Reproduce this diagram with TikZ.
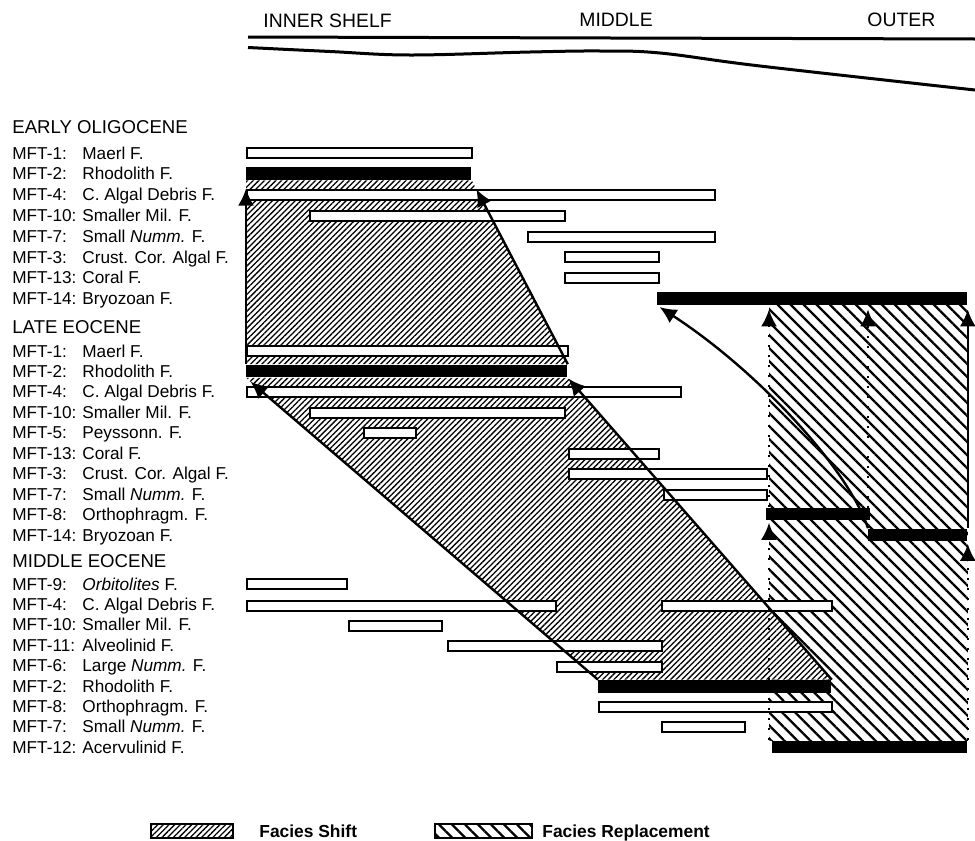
\documentclass[tikz,border=0pt]{standalone}
\usepackage{fontspec}
\setmainfont{Liberation Sans}
\usetikzlibrary{arrows.meta,patterns.meta,backgrounds}

% one facies bar: style, name, x from, x to, y centre
\newcommand{\mftbar}[5]{\node[#1, minimum width={(#4-#3)*0.5pt}] (#2) at (#3,#5) {};}

\begin{document}
\begin{tikzpicture}[
    x=0.5pt, y=-0.5pt,
    openbar/.style={draw, line width=1pt, fill=white, anchor=west, inner sep=0pt, minimum height=5pt},
    solidbar/.style={fill=black, anchor=west, inner sep=0pt, minimum height=6.4pt},
    arr/.style={-{Latex[length=8.5pt,width=8pt]}, line width=1.2pt},
    dotarr/.style={arr, line width=1.1pt, dash pattern=on 1.1pt off 3.9pt},
    shifthatch/.style={preaction={fill=white}, pattern={Lines[angle=45,distance=2pt,line width=0.65pt]}},
    replhatch/.style={preaction={fill=white}, pattern={Lines[angle=-45,distance=4.6pt,line width=1.15pt]}},
    code/.style={anchor=base west, inner sep=0pt, font=\fontsize{8.6}{10}\selectfont},
    period/.style={anchor=west, inner sep=0pt, font=\fontsize{9.3}{11}\selectfont},
    zone/.style={anchor=west, inner sep=0pt, font=\fontsize{9.7}{11}\selectfont},
    legbox/.style={draw, line width=0.9pt, anchor=west, inner sep=0pt, minimum height=7pt},
    legtext/.style={anchor=base west, inner sep=0pt, font=\bfseries\fontsize{8.7}{10}\selectfont},
    shelf/.style={line width=1.5pt}
  ]
  \useasboundingbox (0,0) rectangle (975,841);

  % --- Shelf profile (top) ---
  \node[zone] (inner) at (263,21) {INNER SHELF};
  \node[zone] (middle) at (579,20) {MIDDLE};
  \node[zone] (outer) at (867,20) {OUTER};
  \draw[shelf] (248,37) -- (975,39);
  \draw[shelf] plot[smooth, tension=0.6] coordinates {(248,47.5) (330,51.5) (410,55) (530,52) (600,51) (660,53) (760,66) (975,90)};

  % --- Early Oligocene ---
  \node[period] (eoHead) at (12,127) {EARLY OLIGOCENE};
  \foreach \i/\c/\n in {0/1/Maerl F., 1/2/Rhodolith F., 2/4/C. Algal Debris F., 3/10/Smaller Mil. F.,
      4/7/Small \textit{Numm.} F., 5/3/Crust. Cor. Algal F., 6/13/Coral F., 7/14/Bryozoan F.}
    {\node[code] (eoCode\i) at (12,{159+20.8*\i}) {MFT-\c:};
     \node[code] (eoName\i) at (82,{159+20.8*\i}) {\n};}
  \mftbar{openbar}{eo0}{246}{471}{153}
  \mftbar{solidbar}{eo1}{246}{471}{173.6}
  \mftbar{openbar}{eo2}{246}{714}{194.5}
  \mftbar{openbar}{eo3}{309}{564}{215.5}
  \mftbar{openbar}{eo4}{527}{714}{236.5}
  \mftbar{openbar}{eo5}{564}{658}{257}
  \mftbar{openbar}{eo6}{564}{658}{277.5}
  \mftbar{solidbar}{eo7}{657}{967}{298.6}

  % --- Late Eocene ---
  \node[period] (leHead) at (12,327) {LATE EOCENE};
  \foreach \i/\c/\n in {0/1/Maerl F., 1/2/Rhodolith F., 2/4/C. Algal Debris F., 3/10/Smaller Mil. F.,
      4/5/Peyssonn. F., 5/13/Coral F., 6/3/Crust. Cor. Algal F., 7/7/Small \textit{Numm.} F.,
      8/8/Orthophragm. F., 9/14/Bryozoan F.}
    {\node[code] (leCode\i) at (12,{357+20.45*\i}) {MFT-\c:};
     \node[code] (leName\i) at (82,{357+20.45*\i}) {\n};}
  \mftbar{openbar}{le0}{246}{567}{351}
  \mftbar{solidbar}{le1}{246}{567}{371}
  \mftbar{openbar}{le2}{246}{680}{392}
  \mftbar{openbar}{le3}{309}{564}{412.5}
  \mftbar{openbar}{le4}{363}{415}{433}
  \mftbar{openbar}{le5}{568}{658}{453.5}
  \mftbar{openbar}{le6}{568}{766}{474}
  \mftbar{openbar}{le7}{663}{766}{494.5}
  \mftbar{solidbar}{le8}{766}{870}{514}
  \mftbar{solidbar}{le9}{868}{967}{535}

  % --- Middle Eocene ---
  \node[period] (meHead) at (12,561) {MIDDLE EOCENE};
  \foreach \i/\c/\n in {0/9/\textit{Orbitolites} F., 1/4/C. Algal Debris F., 2/10/Smaller Mil. F.,
      3/11/Alveolinid F., 4/6/Large \textit{Numm.} F., 5/2/Rhodolith F., 6/8/Orthophragm. F.,
      7/7/Small \textit{Numm.} F., 8/12/Acervulinid F.}
    {\node[code] (meCode\i) at (12,{590+20.4*\i}) {MFT-\c:};
     \node[code] (meName\i) at (82,{590+20.4*\i}) {\n};}
  \mftbar{openbar}{me0}{246}{346}{584}
  \mftbar{openbar}{me1}{246}{555}{605.5}
  \mftbar{openbar}{me1b}{661}{831}{605.5}
  \mftbar{openbar}{me2}{348}{441}{625.5}
  \mftbar{openbar}{me3}{447}{661}{646}
  \mftbar{openbar}{me4}{556}{661}{666.5}
  \mftbar{solidbar}{me5}{598}{831}{686.5}
  \mftbar{openbar}{me6}{598}{831}{706.5}
  \mftbar{openbar}{me7}{661}{744}{727}
  \mftbar{solidbar}{me8}{772}{967}{747}

  % --- Facies replacement / shift areas (behind the bars) ---
  \coordinate (dotA) at (769,0);
  \begin{pgfonlayer}{background}
    \path[replhatch] (eo7.south west -| dotA) rectangle (me8.north east);
    \path[shifthatch] (eo1.south west) -- (eo1.south east) -- (le1.north east) -- (le1.north west) -- cycle;
    \path[shifthatch] (le1.south west) -- (le1.south east) -- (me5.north east) -- (me5.north west) -- cycle;
  \end{pgfonlayer}

  % --- Shift arrows ---
  \draw[arr] (le1.north west) -- (eo2.north west);
  \draw[arr, shorten >=5pt] (le1.north east) -- (eo1.south east);
  \draw[arr, shorten >=3pt] (me5.north west) -- (le1.south west);
  \draw[arr, shorten >=0.5pt] (me5.north east) -- (le1.south east);

  % --- Replacement arrows ---
  \draw[dotarr] (le8.north west -| dotA) -- ([yshift=-2pt]eo7.south west -| dotA);
  \draw[dotarr] (me8.north west -| dotA) -- ([yshift=-1pt]le8.south west -| dotA);
  \draw[dotarr] (le9.north west) -- ([yshift=-2pt]eo7.south -| le9.west);
  \draw[arr] (le9.north east) -- ([yshift=-2pt]eo7.south east);
  \draw[dotarr] (me8.north east) -- ([yshift=-1pt]le9.south east);
  \draw[arr, shorten >=1.5pt] (le9.north west) .. controls +(-20,-60) and +(100,65) .. (eo7.south west);

  % --- Legend ---
  \node[legbox, shifthatch, minimum width=41pt] (legShift) at (150,831) {};
  \node[legtext] (legShiftTxt) at (259,837) {Facies Shift};
  \node[legbox, replhatch, minimum width=48.5pt] (legRepl) at (434,831) {};
  \node[legtext] (legReplTxt) at (542,837) {Facies Replacement};

\end{tikzpicture}
\end{document}
